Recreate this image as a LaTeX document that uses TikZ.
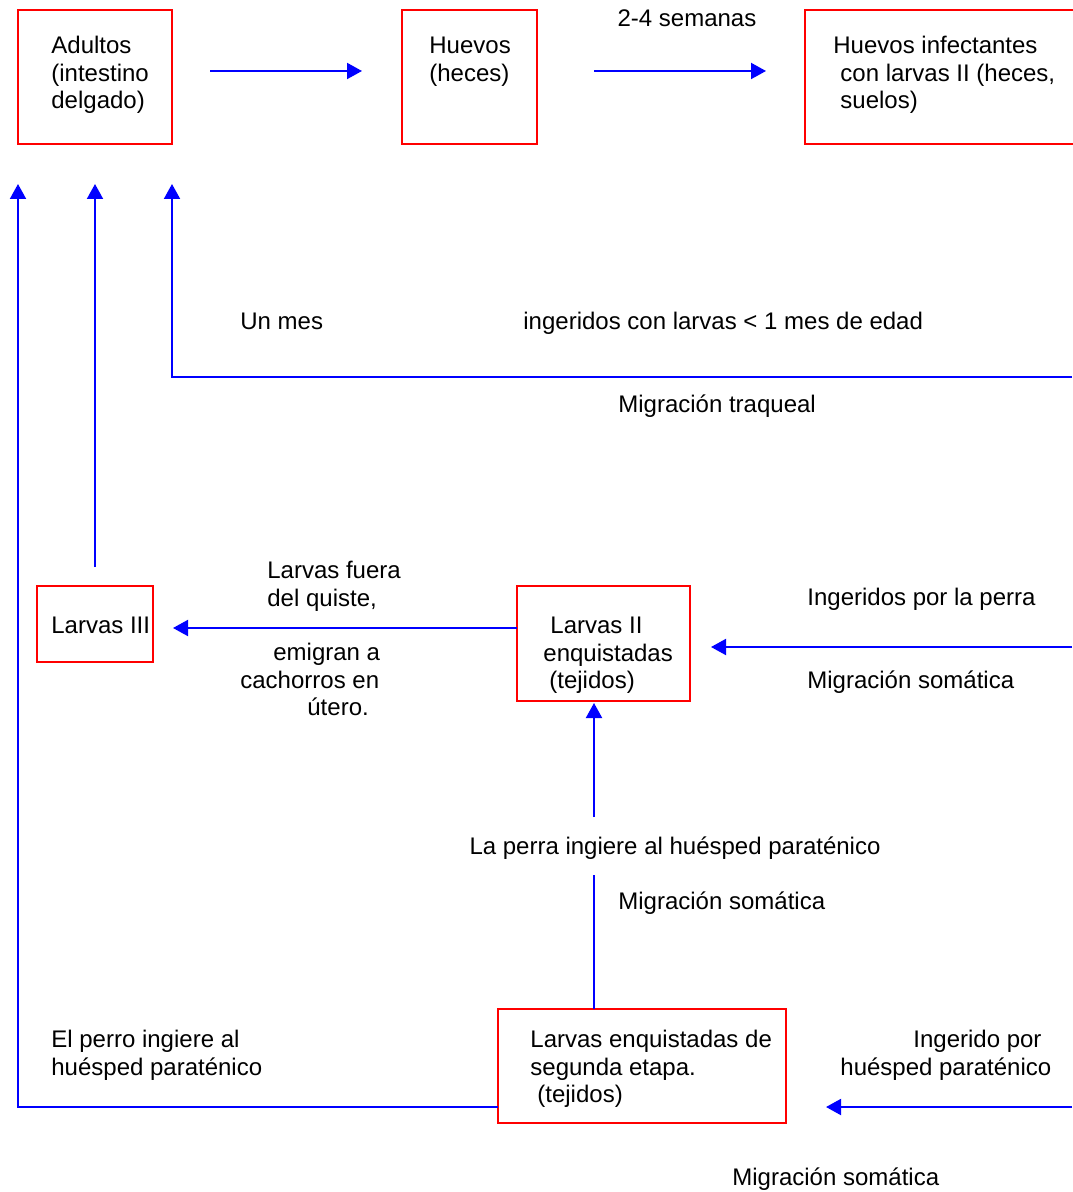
\documentclass[tikz,border=0pt]{standalone}
\usepackage{fontspec}
\setmainfont{Liberation Sans}
\usetikzlibrary{arrows.meta}

\begin{document}
\begin{tikzpicture}[x=0.5pt,y=-0.5pt,
    box/.style={draw=red,line width=1pt,inner sep=0pt,outer sep=0pt,anchor=north west},
    txt/.style={font=\fontsize{12}{13.75}\selectfont,inner sep=0pt,anchor=north west,align=left},
    line/.style={draw=blue,line width=1pt},
    arr/.style={line,-{Triangle[length=7.5pt,width=8pt]}}]
    \useasboundingbox (0,0) rectangle (1072,1192);
    % Boxes
    \node[box,minimum width=77pt,minimum height=67pt] (adultos) at (18,10) {};
    \node[box,minimum width=67.5pt,minimum height=67pt] (huevos) at (402,10) {};
    \node[box,minimum width=150pt,minimum height=67pt] (infect) at (805,10) {};
    \node[box,minimum width=58pt,minimum height=38pt] (larvasIII) at (37,586) {};
    \node[box,minimum width=86.5pt,minimum height=57.5pt] (larvasII) at (517,586) {};
    \node[box,minimum width=144pt,minimum height=57pt] (segunda) at (498,1009) {};
    % Box texts
    \node[txt] (tadultos) at (51,34) {\strut Adultos\\(intestino\\delgado)};
    \node[txt] (thuevos) at (429,34) {\strut Huevos\\(heces)};
    \node[txt] (tinfect) at (833,34) {\strut Huevos infectantes\\\hspace*{3.5pt}con larvas II (heces,\\\hspace*{3.5pt}suelos)};
    \node[txt] (tlarvasIII) at (51,614) {\strut Larvas III};
    \node[txt] (tlarvasII) at (543,614) {\strut\hspace*{3.5pt}Larvas II\\enquistadas\\\hspace*{3pt}(tejidos)};
    \node[txt] (tsegunda) at (530,1028) {\strut Larvas enquistadas de\\segunda etapa.\\\hspace*{3.5pt}(tejidos)};
    % Labels
    \node[txt,anchor=north] (semanas) at (687,7) {\strut 2-4 semanas};
    \node[txt] (unmes) at (240,310) {\strut Un mes};
    \node[txt] (ingeridos) at (523,310) {\strut ingeridos con larvas < 1 mes de edad};
    \node[txt] (traqueal) at (618,393) {\strut Migración traqueal};
    \node[txt] (fuera) at (267,559) {\strut Larvas fuera\\del quiste,};
    \node[txt] (emigran) at (240,641) {\strut\hspace*{16.5pt}emigran a\\cachorros en\\\hspace*{33.5pt}útero.};
    \node[txt] (perra) at (807,586) {\strut Ingeridos por la perra};
    \node[txt] (somatica1) at (807,669) {\strut Migración somática};
    \node[txt,anchor=north] (paraten) at (675,835) {\strut La perra ingiere al huésped paraténico};
    \node[txt] (somatica2) at (618,890) {\strut Migración somática};
    \node[txt] (perro) at (51,1028) {\strut El perro ingiere al\\huésped paraténico};
    \node[txt] (ingerido) at (840,1028) {\strut\hspace*{36.5pt}Ingerido por\\huésped paraténico};
    \node[txt] (somatica3) at (732,1166) {\strut Migración somática};
    % Connectors
    \coordinate (traq) at (1072,377);
    \coordinate (perraIn) at (1072,647);
    \coordinate (hospIn) at (1072,1107);
    \coordinate (vert) at (594,0);
    \draw[arr,shorten <=19pt,shorten >=20pt] ([yshift=3pt]adultos.east) -- ([yshift=3pt]huevos.west);
    \draw[arr,shorten <=28.5pt,shorten >=19.5pt] ([yshift=3pt]huevos.east) -- ([yshift=3pt]infect.west);
    \draw[arr,shorten >=20pt] (segunda.west |- hospIn) -| (adultos.south west);
    \draw[arr,shorten <=9.5pt,shorten >=20pt] (larvasIII.north) -- (adultos.south);
    \draw[arr,shorten >=20pt] (traq) -| (adultos.south east);
    \draw[arr,shorten >=10pt] ([yshift=7.75pt]larvasII.west) -- ([yshift=7.75pt]larvasII.west -| larvasIII.east);
    \draw[arr,shorten >=10.5pt] (perraIn) -- (larvasII.east |- perraIn);
    \draw[line,shorten >=5.75pt] (segunda.north -| vert) -- (paraten.south -| vert);
    \draw[arr,shorten <=9pt,shorten >=1pt] (paraten.north -| vert) -- (larvasII.south -| vert);
    \draw[arr,shorten >=20pt] (hospIn) -- (segunda.east |- hospIn);
\end{tikzpicture}
\end{document}
